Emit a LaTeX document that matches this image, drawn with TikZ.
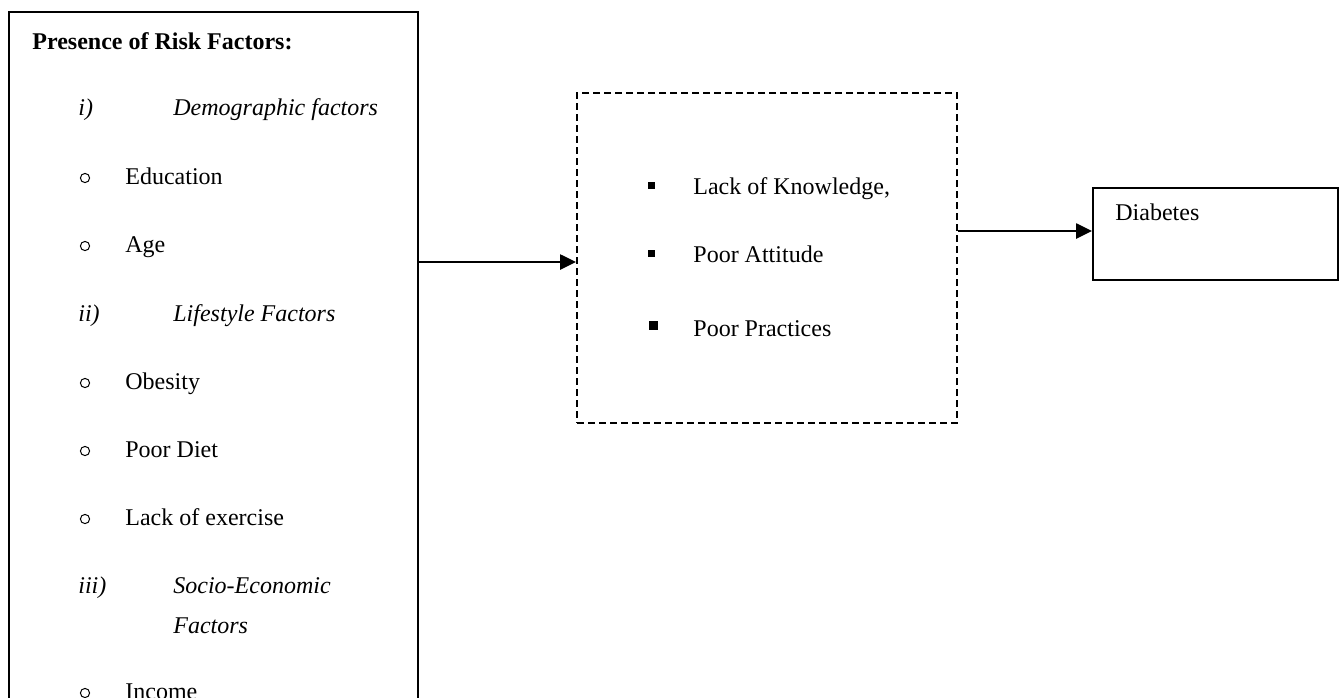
\documentclass[tikz,border=0pt]{standalone}
\usepackage{fontspec}
\setmainfont{Liberation Serif}
\usepackage{tikz}
\usetikzlibrary{arrows.meta, positioning, fit}

\begin{document}
\begin{tikzpicture}[
	x=0.5pt, y=-0.5pt,
	font=\fontsize{12}{14}\selectfont,
	solidbox/.style={draw, line width=1pt, rectangle, inner sep=0pt},
	dashbox/.style={draw, line width=1pt, rectangle, inner sep=0pt, dash pattern=on 3.5pt off 2pt},
	item/.style={anchor=base west, inner sep=0pt},
	heading/.style={item, font=\fontsize{12}{14}\selectfont\itshape},
	hollow/.style={draw, circle, line width=0.5pt, inner sep=0pt, minimum size=4.6pt},
	square/.style={fill=black, inner sep=0pt, minimum size=3.5pt},
	pointer/.style={-{Triangle[length=8pt, width=7.5pt]}, line width=1.3pt}
]
\clip (0,0) rectangle (1342,697);

% boxes
\coordinate (rtl) at (9,12);
\coordinate (rbr) at (418,760);
\node[solidbox, fit=(rtl)(rbr)] (risk) {};
\coordinate (gtl) at (577,93);
\coordinate (gbr) at (957,423);
\node[dashbox, fit=(gtl)(gbr)] (gap) {};
\coordinate (dtl) at (1093,188);
\coordinate (dbr) at (1338,280);
\node[solidbox, fit=(dtl)(dbr)] (diab) {};

% risk factors
\node[item, font=\fontsize{12}{14}\selectfont\bfseries] (title) at (32,49) {Presence of Risk Factors:};
\node[heading] (n1) at (78,115) {i)};
\node[heading] (demo) at (173,115) {Demographic factors};
\node[hollow] (b1) at (85,178) {};
\node[item] (edu) at (125,184) {Education};
\node[hollow] (b2) at (85,246) {};
\node[item] (age) at (125,252) {Age};
\node[heading] (n2) at (78,321) {ii)};
\node[heading] (life) at (173,321) {Lifestyle Factors};
\node[hollow] (b3) at (85,383) {};
\node[item] (obes) at (125,389) {Obesity};
\node[hollow] (b4) at (85,451) {};
\node[item] (diet) at (125,457) {Poor Diet};
\node[hollow] (b5) at (85,519) {};
\node[item] (exer) at (125,525) {Lack of exercise};
\node[heading] (n3) at (78,593) {iii)};
\node[heading] (socio) at (173,593) {Socio-Economic};
\node[heading] (socio2) at (173,633) {Factors};
\node[hollow] (b6) at (85,693) {};
\node[item] (inc) at (125,699) {Income};

% gaps
\node[square] (s1) at (651,185) {};
\node[item] (know) at (693,194) {Lack of Knowledge,};
\node[square] (s2) at (651,253) {};
\node[item] (att) at (693,262) {Poor Attitude};
\node[square, minimum size=4.5pt] (s3) at (653,325) {};
\node[item] (prac) at (693,336) {Poor Practices};

\node[item] (dtext) at (1115,220) {Diabetes};

% arrows
\coordinate (y1) at (0,262);
\coordinate (y2) at (0,231);
\draw[pointer] (risk.east |- y1) -- (gap.west |- y1);
\draw[pointer] (gap.east |- y2) -- (diab.west |- y2);

\end{tikzpicture}
\end{document}
